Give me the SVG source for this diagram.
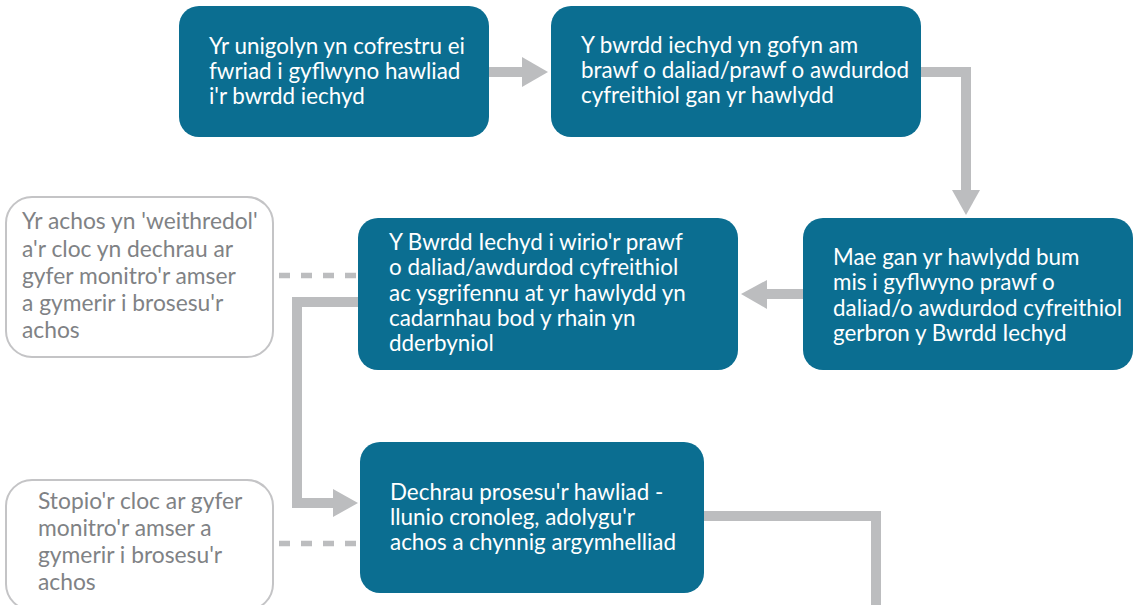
<svg xmlns="http://www.w3.org/2000/svg" width="1133" height="605" viewBox="0 0 1133 605">
<style>
.box{fill:#0b6e91}
.gbox{fill:#ffffff;stroke:#c4c4c6;stroke-width:2}
.t{font-family:Lato,"Open Sans",sans-serif;font-size:22.4px;fill:#ffffff}
.g{font-family:Lato,"Open Sans",sans-serif;font-size:22.8px;fill:#808285}
.c{fill:none;stroke:#bcbdbf;stroke-width:10}
.d{fill:none;stroke:#bcbdbf;stroke-width:5.5;stroke-dasharray:11 11}
.h{fill:#bcbdbf}
</style>
<rect width="1133" height="605" fill="#ffffff"/>
<g id="connectors">
<line class="c" x1="489" y1="72" x2="523" y2="72"/>
<polygon class="h" points="522,57 548,72 522,87"/>
<polyline class="c" points="921,72 966,72 966,191"/>
<polygon class="h" points="952,190 980,190 966,215"/>
<line class="c" x1="803" y1="294" x2="766" y2="294"/>
<polygon class="h" points="767,280 741,294 767,309"/>
<polyline class="c" points="358,302 297,302 297,503 334,503"/>
<polygon class="h" points="333,489 358,503 333,517"/>
<polyline class="c" points="704,516 876,516 876,605"/>
<line class="d" x1="273" y1="275.5" x2="358" y2="275.5" stroke-dashoffset="-6"/>
<line class="d" x1="273" y1="543.5" x2="360" y2="543.5" stroke-dashoffset="-6"/>
</g>
<g id="n1">
<rect class="box" x="179" y="6" width="310" height="131" rx="20"/>
<text class="t" x="209" y="54">Yr unigolyn yn cofrestru ei</text>
<text class="t" x="209" y="79">fwriad i gyflwyno hawliad</text>
<text class="t" x="209" y="104">i'r bwrdd iechyd</text>
</g>
<g id="n2">
<rect class="box" x="551" y="6" width="370" height="131" rx="20"/>
<text class="t" x="581" y="53">Y bwrdd iechyd yn gofyn am</text>
<text class="t" x="581" y="78">brawf o daliad/prawf o awdurdod</text>
<text class="t" x="581" y="103">cyfreithiol gan yr hawlydd</text>
</g>
<g id="n3">
<rect class="box" x="803" y="218" width="330" height="152" rx="20"/>
<text class="t" x="833" y="265">Mae gan yr hawlydd bum</text>
<text class="t" x="833" y="290">mis i gyflwyno prawf o</text>
<text class="t" x="833" y="316">daliad/o awdurdod cyfreithiol</text>
<text class="t" x="833" y="341">gerbron y Bwrdd Iechyd</text>
</g>
<g id="n4">
<rect class="box" x="358" y="218" width="380" height="152" rx="20"/>
<text class="t" x="389" y="250">Y Bwrdd Iechyd i wirio'r prawf</text>
<text class="t" x="389" y="275">o daliad/awdurdod cyfreithiol</text>
<text class="t" x="389" y="301">ac ysgrifennu at yr hawlydd yn</text>
<text class="t" x="389" y="326">cadarnhau bod y rhain yn</text>
<text class="t" x="389" y="351">dderbyniol</text>
</g>
<g id="n5">
<rect class="box" x="360" y="442" width="344" height="151" rx="20"/>
<text class="t" x="390" y="500">Dechrau prosesu'r hawliad -</text>
<text class="t" x="390" y="525">llunio cronoleg, adolygu'r</text>
<text class="t" x="390" y="550">achos a chynnig argymhelliad</text>
</g>
<g id="g1">
<rect class="gbox" x="6" y="197" width="267" height="160" rx="26"/>
<text class="g" x="22" y="229">Yr achos yn 'weithredol'</text>
<text class="g" x="22" y="257">a'r cloc yn dechrau ar</text>
<text class="g" x="22" y="284">gyfer monitro'r amser</text>
<text class="g" x="22" y="311">a gymerir i brosesu'r</text>
<text class="g" x="22" y="338">achos</text>
</g>
<g id="g2">
<rect class="gbox" x="6" y="480" width="267" height="130" rx="26"/>
<text class="g" x="38" y="509">Stopio'r cloc ar gyfer</text>
<text class="g" x="38" y="536">monitro'r amser a</text>
<text class="g" x="38" y="563">gymerir i brosesu'r</text>
<text class="g" x="38" y="590">achos</text>
</g>
</svg>
